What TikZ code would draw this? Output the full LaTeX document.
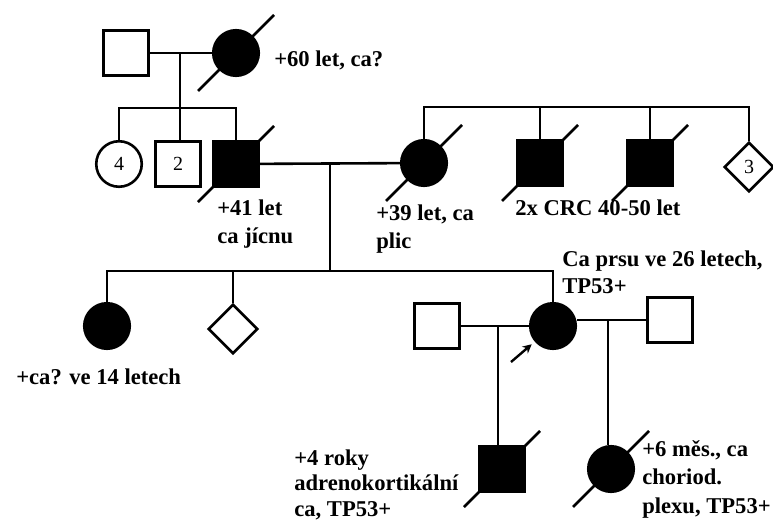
\documentclass[tikz,border=0pt]{standalone}
\usepackage{fontspec}
\setmainfont{Liberation Serif}
\usetikzlibrary{shapes.geometric,arrows.meta}

\begin{document}
\begin{tikzpicture}[x=1pt,y=-1pt,line width=2.6pt,
  male/.style={draw,rectangle,minimum size=44.5pt,inner sep=0pt,font=\fontsize{20}{24}\selectfont},
  female/.style={draw,circle,minimum size=45.5pt,inner sep=0pt,font=\fontsize{20}{24}\selectfont},
  unknown/.style={draw,diamond,minimum size=49.5pt,inner sep=0pt,font=\fontsize{20}{24}\selectfont},
  affected/.style={fill=black},
  note/.style={anchor=base west,align=left,inner sep=0pt,font=\bfseries\fontsize{22.6}{28}\selectfont}]
  \useasboundingbox (0,0) rectangle (773,522);
  \node[male] (gf) at (126,53) {};
  \node[female,affected] (gm) at (236,53) {};
  \node[female] (aunt) at (119,164) {4};
  \node[male] (uncle) at (178,164) {2};
  \node[male,affected] (fa) at (236,164) {};
  \node[female,affected] (mo) at (424,163) {};
  \node[male,affected] (crc1) at (540,163) {};
  \node[male,affected] (crc2) at (650,163) {};
  \node[unknown] (sibs) at (749,167) {3};
  \node[female,affected] (dau) at (107,326) {};
  \node[unknown] (dia) at (233,329) {};
  \node[female,affected] (pb) at (553,326) {};
  \node[male] (h1) at (437,326) {};
  \node[male] (h2) at (670,320) {};
  \node[male,affected] (son) at (502,469) {};
  \node[female,affected] (gdau) at (611,469) {};
  \coordinate (m1) at (180,53);
  \coordinate (s1) at (180,108);
  \coordinate (m2) at (330,163);
  \coordinate (s2) at (424,107);
  \coordinate (s3) at (330,271);
  \coordinate (m3) at (498,326);
  \coordinate (m4) at (608,320);
  \coordinate (arr) at (511,362);
  \draw (gf) -- (gm);
  \draw (m1) -- (s1);
  \draw (aunt.north) |- (s1) -| (fa.north);
  \draw (s1) -- (s1 |- uncle.north);
  \draw (fa) -- (mo);
  \draw (mo.north) |- (s2) -| (sibs.north);
  \draw (crc1.north) -- (crc1.north |- s2);
  \draw (crc2.north) -- (crc2.north |- s2);
  \draw (m2) -- (s3);
  \draw (dau.north) |- (s3) -| (pb.north);
  \draw (dia.north) -- (dia.north |- s3);
  \draw (h1) -- (pb);
  \draw (h2.west) -- (h2.west -| pb.east);
  \draw (m3) -- (m3 |- son.north);
  \draw (m4) -- (m4 |- gdau.north);
  \draw[line width=2.4pt,-{Stealth[length=9pt,width=9pt]},shorten >=4pt] (arr) -- (pb);
  \foreach \n in {gm,fa,mo,crc1,crc2,son,gdau}
    \draw (\n.center) ++(-38,38) -- ++(76,-76);
  \node[note] (t60) at (273,66) {+60 let, ca?};
  \node[note] (t41) at (216,243) {+41 let\\ca jícnu};
  \node[note] (t39) at (375,248) {+39 let, ca\\plic};
  \node[note] (tcrc) at (514,215) {2x CRC 40-50 let};
  \node[note] (t14) at (15,384) {+ca? ve 14 letech};
  \node[note,font=\bfseries\fontsize{22.6}{27}\selectfont] (tpb) at (561,293) {Ca prsu ve 26 letech,\\TP53+};
  \node[note,font=\bfseries\fontsize{22.6}{25.5}\selectfont] (t4) at (293,516) {+4 roky\\adrenokortikální\\ca, TP53+};
  \node[note,font=\bfseries\fontsize{22.6}{28.5}\selectfont] (t6) at (641,513) {+6 měs., ca\\choriod.\\plexu, TP53+};
\end{tikzpicture}
\end{document}
